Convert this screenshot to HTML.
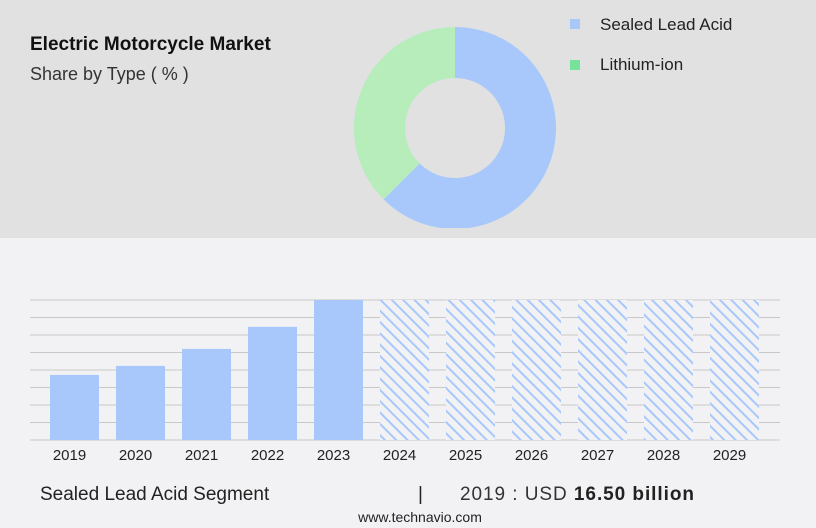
<!DOCTYPE html>
<html><head><meta charset="utf-8"><style>
html,body{margin:0;width:816px;height:528px;overflow:hidden;background:#f2f2f4;font-family:"Liberation Sans",sans-serif;}
svg{display:block;}
</style></head><body>
<svg width="816" height="528" xmlns="http://www.w3.org/2000/svg">
<defs><pattern id="hatch" patternUnits="userSpaceOnUse" width="8" height="8" patternTransform="rotate(-45)">
<rect width="8" height="8" fill="#f2f2f4"/><rect x="0" y="0" width="2" height="8" fill="#a8c8fb"/></pattern></defs>
<rect x="0" y="0" width="816" height="238" fill="#e1e1e1"/>
<text x="30" y="50" font-size="19" font-weight="bold" fill="#111">Electric Motorcycle Market</text>
<text x="30" y="80" font-size="18" fill="#333">Share by Type ( % )</text>
<g id="donut"></g>
<rect x="570" y="19" width="10" height="10" fill="#a8c8fb"/>
<text x="600" y="30" font-size="17" fill="#222">Sealed Lead Acid</text>
<rect x="570" y="60" width="10" height="10" fill="#77e39a"/>
<text x="600" y="70" font-size="17" fill="#222">Lithium-ion</text>
<g id="grid"></g><g id="bars"></g><g id="xlabels"></g>
<text x="40" y="500" font-size="19" fill="#222">Sealed Lead Acid Segment</text>
<text x="418" y="500" font-size="19" fill="#222">|</text>
<text x="460" y="500" font-size="19" fill="#333" textLength="234">2019 : USD <tspan font-weight="bold" fill="#222">16.50 billion</tspan></text>
<text x="420" y="522" font-size="14" fill="#222" text-anchor="middle">www.technavio.com</text>
</svg>
<script>
const shareLabels=["Sealed Lead Acid","Lithium-ion"];
const shareValues=[62.5,37.5];
const years=["2019","2020","2021","2022","2023","2024","2025","2026","2027","2028","2029"];
const values=[16.5,18.8,23.1,28.7,35.5,null,null,null,null,null,null];
const forecast=[false,false,false,false,false,true,true,true,true,true,true];
const NS="http://www.w3.org/2000/svg";
function mk(t,a,p){const e=document.createElementNS(NS,t);for(const k in a)e.setAttribute(k,a[k]);p.appendChild(e);return e;}
const cx=455,cy=128,R=101,r=50,colors=["#a8c8fb","#b6edbb"];
const dg=document.getElementById("donut");
let tot=shareValues.reduce((a,b)=>a+b,0),ang=0;
shareValues.forEach((v,i)=>{const a0=ang,a1=ang+v/tot*2*Math.PI;ang=a1;
const p=(a,rr)=>[cx+rr*Math.sin(a),cy-rr*Math.cos(a)];
const [x0,y0]=p(a0,R),[x1,y1]=p(a1,R),[x2,y2]=p(a1,r),[x3,y3]=p(a0,r);const lg=a1-a0>Math.PI?1:0;
const e=mk("path",{d:`M${x0},${y0}A${R},${R} 0 ${lg} 1 ${x1},${y1}L${x2},${y2}A${r},${r} 0 ${lg} 0 ${x3},${y3}Z`,fill:colors[i]},dg);

});
mk("rect",{x:340,y:228,width:240,height:10,fill:"#e1e1e1"},dg);
const base=440,plotTop=300,maxV=35.5;
const yS=v=>base-(v/maxV)*(base-plotTop);
const xS=i=>50+i*66,bw=49;
const gg=document.getElementById("grid");
for(let k=0;k<=8;k++){const y=base-k*(base-plotTop)/8;const l=mk("line",{x1:30,x2:780,y1:y,y2:y,stroke:"#c8c8c8","stroke-width":1},gg);

}
const bg=document.getElementById("bars"),xg=document.getElementById("xlabels");
years.forEach((yr,i)=>{let e;
if(forecast[i]){e=mk("rect",{x:xS(i),y:plotTop,width:bw,height:base-plotTop,fill:"url(#hatch)"},bg);}
else{const y=yS(values[i]);e=mk("rect",{x:xS(i),y:y,width:bw,height:base-y,fill:"#a8c8fb"},bg);}


const t=mk("text",{x:xS(i)+bw/2-5,y:460,"font-size":15,"text-anchor":"middle",fill:"#222"},xg);t.textContent=yr;

});
</script>
</body></html>
